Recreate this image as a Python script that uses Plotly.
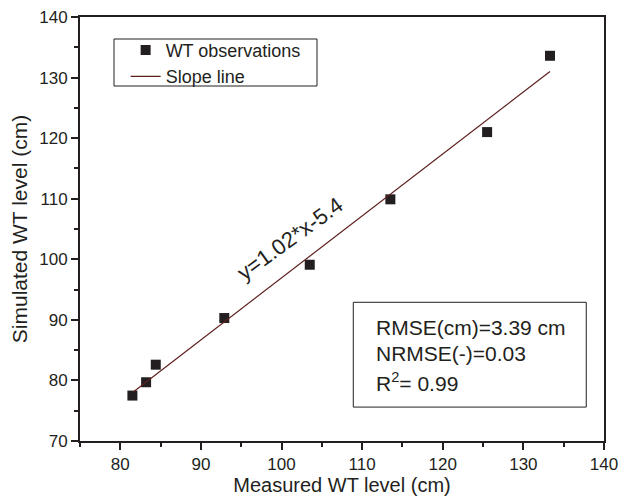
import plotly.graph_objects as go

# Data
measured = [81.5, 83.2, 84.4, 92.9, 103.5, 113.5, 125.5, 133.3]
simulated = [77.5, 79.7, 82.6, 90.3, 99.1, 109.9, 121.0, 133.6]
line_x = [81.6, 133.3]
line_y = [78.1, 131.0]

x_ticks = [80, 90, 100, 110, 120, 130, 140]
y_ticks = [70, 80, 90, 100, 110, 120, 130, 140]

FONT = "Liberation Sans, Arial, Helvetica, sans-serif"
INK = "#231f20"

fig = go.Figure()
fig.add_trace(go.Scatter(
    x=measured, y=simulated, mode="markers", name="WT observations",
    marker=dict(symbol="square", size=10, color=INK),
))
fig.add_trace(go.Scatter(
    x=line_x, y=line_y, mode="lines", name="Slope line",
    line=dict(color="#5e1f1f", width=1.2),
))

axis_common = dict(
    showline=True, linecolor=INK, linewidth=1.8, mirror=True,
    ticks="outside", ticklen=7, tickwidth=1.5, tickcolor=INK,
    showgrid=False, zeroline=False, automargin=False,
    tickfont=dict(family=FONT, size=17, color=INK),
    minor=dict(dtick=5, ticklen=4, tickwidth=1.5, tickcolor=INK, ticks="outside"),
)

fig.update_layout(
    width=619, height=497,
    margin=dict(l=80, r=15, t=17, b=56),
    paper_bgcolor="white", plot_bgcolor="white",
    font=dict(family=FONT, color=INK),
    xaxis=dict(axis_common, range=[75, 140], tickvals=x_ticks,
               title=dict(text="Measured WT level (cm)", font=dict(size=20, family=FONT, color=INK), standoff=3)),
    yaxis=dict(axis_common, range=[70, 140], tickvals=y_ticks,
               title=dict(text="Simulated WT level (cm)", font=dict(size=21, family=FONT, color=INK), standoff=6)),
    legend=dict(x=0.068, y=0.965, xanchor="left", yanchor="top",
                borderwidth=0, bgcolor="rgba(0,0,0,0)",
                font=dict(size=18, family=FONT, color=INK),
                tracegroupgap=0, indentation=10),
    showlegend=True,
)

# legend frame (matches reference box)
fig.add_shape(type="rect", xref="paper", yref="paper",
              x0=(114 - 80) / 524, x1=(317 - 80) / 524,
              y0=(441 - 86) / 424, y1=(441 - 39) / 424,
              line=dict(color=INK, width=1), layer="above")

fig.add_annotation(x=101.1, y=103.4, xref="x", yref="y", text="y=1.02*x-5.4",
                   textangle=-36, showarrow=False,
                   font=dict(size=22, family=FONT, color=INK))

fig.add_shape(type="rect", xref="x", yref="y", x0=108.9, x1=137.8, y0=75.6, y1=92.9,
              line=dict(color=INK, width=1), fillcolor="white", layer="above")

stats = ["RMSE(cm)=3.39 cm", "NRMSE(-)=0.03", "R<sup>2</sup>= 0.99"]
stat_y = [0.268, 0.206, 0.139]
for txt, yy in zip(stats, stat_y):
    fig.add_annotation(x=0.561, y=yy, xref="paper", yref="paper", text=txt,
                       xanchor="left", yanchor="middle", showarrow=False,
                       font=dict(size=21, family=FONT, color=INK))

fig.write_html("out.html")
